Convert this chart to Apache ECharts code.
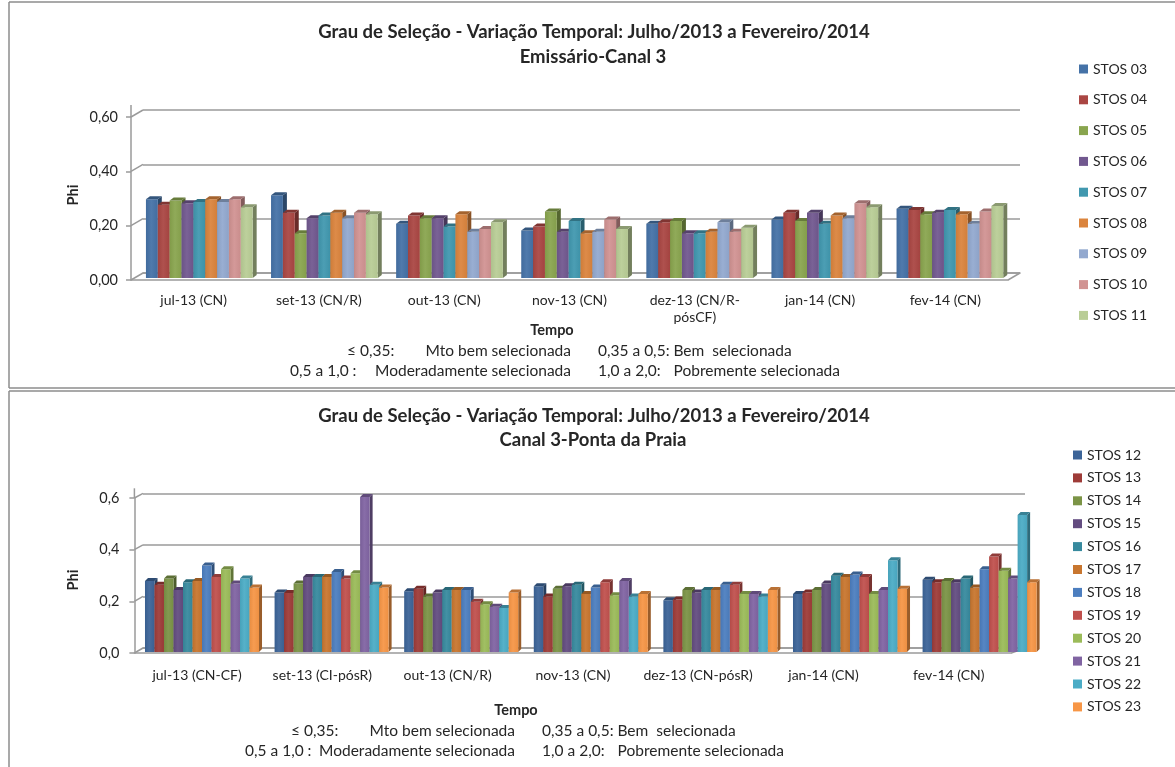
<!DOCTYPE html>
<html>
<head>
<meta charset="utf-8">
<script src="https://cdn.jsdelivr.net/npm/echarts@6/dist/echarts.min.js"></script>
<style>
  html, body { margin: 0; padding: 0; background: #ffffff; }
  #chart { width: 1175px; height: 767px; }
</style>
</head>
<body>
<div id="chart"></div>
<script>
// ---- Emissário-Canal 3 (upper chart) ----
const categoriesTop = ['jul-13 (CN)', 'set-13 (CN/R)', 'out-13 (CN)', 'nov-13 (CN)', 'dez-13 (CN/R-pósCF)', 'jan-14 (CN)', 'fev-14 (CN)'];
const stationsTop = ['STOS 03', 'STOS 04', 'STOS 05', 'STOS 06', 'STOS 07', 'STOS 08', 'STOS 09', 'STOS 10', 'STOS 11'];
const stos03 = [0.29, 0.305, 0.20, 0.175, 0.20, 0.215, 0.255];
const stos04 = [0.27, 0.24, 0.23, 0.19, 0.205, 0.24, 0.25];
const stos05 = [0.285, 0.165, 0.22, 0.245, 0.21, 0.21, 0.235];
const stos06 = [0.275, 0.22, 0.22, 0.17, 0.165, 0.24, 0.24];
const stos07 = [0.28, 0.23, 0.19, 0.21, 0.165, 0.20, 0.25];
const stos08 = [0.29, 0.24, 0.235, 0.165, 0.17, 0.23, 0.235];
const stos09 = [0.28, 0.22, 0.17, 0.17, 0.205, 0.22, 0.20];
const stos10 = [0.29, 0.24, 0.18, 0.215, 0.17, 0.275, 0.245];
const stos11 = [0.26, 0.235, 0.205, 0.18, 0.185, 0.26, 0.265];
const valuesTop = [stos03, stos04, stos05, stos06, stos07, stos08, stos09, stos10, stos11];
const colorsTop = ['#4572A7', '#AA4643', '#89A54E', '#71588F', '#4198AF', '#DB843D', '#93A9CF', '#D19392', '#B9CD96'];
const ticksTop = [0, 0.2, 0.4, 0.6];

// ---- Canal 3-Ponta da Praia (lower chart) ----
const categoriesBottom = ['jul-13 (CN-CF)', 'set-13 (CI-pósR)', 'out-13 (CN/R)', 'nov-13 (CN)', 'dez-13 (CN-pósR)', 'jan-14 (CN)', 'fev-14 (CN)'];
const stationsBottom = ['STOS 12', 'STOS 13', 'STOS 14', 'STOS 15', 'STOS 16', 'STOS 17', 'STOS 18', 'STOS 19', 'STOS 20', 'STOS 21', 'STOS 22', 'STOS 23'];
const stos12 = [0.275, 0.23, 0.235, 0.255, 0.20, 0.225, 0.28];
const stos13 = [0.26, 0.228, 0.245, 0.215, 0.203, 0.23, 0.27];
const stos14 = [0.285, 0.265, 0.215, 0.245, 0.24, 0.24, 0.275];
const stos15 = [0.24, 0.29, 0.23, 0.255, 0.23, 0.265, 0.27];
const stos16 = [0.27, 0.29, 0.24, 0.26, 0.24, 0.295, 0.285];
const stos17 = [0.275, 0.29, 0.24, 0.225, 0.24, 0.29, 0.25];
const stos18 = [0.335, 0.31, 0.24, 0.25, 0.26, 0.30, 0.32];
const stos19 = [0.29, 0.285, 0.195, 0.27, 0.26, 0.29, 0.37];
const stos20 = [0.32, 0.305, 0.185, 0.22, 0.225, 0.225, 0.315];
const stos21 = [0.265, 0.60, 0.175, 0.275, 0.225, 0.24, 0.285];
const stos22 = [0.285, 0.26, 0.17, 0.215, 0.215, 0.355, 0.53];
const stos23 = [0.25, 0.25, 0.23, 0.225, 0.24, 0.245, 0.27];
const valuesBottom = [stos12, stos13, stos14, stos15, stos16, stos17, stos18, stos19, stos20, stos21, stos22, stos23];
const colorsBottom = ['#3C6498', '#9E3B38', '#7B9446', '#634C80', '#378A9E', '#C8762F', '#4C7EBF', '#C0504D', '#9BBB59', '#8064A2', '#4BACC6', '#F79646'];
const ticksBottom = [0, 0.2, 0.4, 0.6];

const FONT = 'Lato, "Open Sans", sans-serif';
const GRID_GRAY = '#9a9a9a';
const TEXT = '#262626';

function shade(hex, f) {
  const n = parseInt(hex.slice(1), 16);
  let r = (n >> 16) & 255, g = (n >> 8) & 255, b = n & 255;
  const adj = c => Math.round(f < 0 ? c * (1 + f) : c + (255 - c) * f);
  r = adj(r); g = adj(g); b = adj(b);
  return 'rgb(' + r + ',' + g + ',' + b + ')';
}

// 3D-looking column: front face, right side and top cap, placed inside the category band
function column3d(k, n, groupFrac, depth, lift) {
  return function (params, api) {
    const cat = api.value(0);
    const v = api.value(1);
    const top = api.coord([cat, v]);
    const base = api.coord([cat, 0]);
    const band = api.size([1, 0])[0];
    const groupW = band * groupFrac;
    const slot = (groupW - depth) / n;
    const x = top[0] - groupW / 2 + k * slot;
    const w = slot;
    const yT = top[1], yB = base[1];
    const color = api.visual('color');
    return {
      type: 'group',
      children: [
        { type: 'polygon', shape: { points: [[x + w, yB], [x + w, yT], [x + w + depth, yT - lift], [x + w + depth, yB - lift]] },
          style: { fill: shade(color, -0.38) } },
        { type: 'rect', shape: { x: x, y: yT, width: w, height: yB - yT },
          style: { fill: new echarts.graphic.LinearGradient(0, 0, 1, 0, [
            { offset: 0, color: shade(color, -0.06) },
            { offset: 0.45, color: shade(color, 0.06) },
            { offset: 1, color: shade(color, -0.04) }]) } },
        { type: 'polygon', shape: { points: [[x, yT], [x + w, yT], [x + w + depth, yT - lift], [x + depth, yT - lift]] },
          style: { fill: shade(color, -0.25) } }
      ]
    };
  };
}

// layout of the two panels: back wall, columns, front axes
const L = {
  top: {
    back: { left: 143, right: 1020, top: 110, bottom: 273 },
    bars: { left: 138.75, right: 1014.45, top: 115, bottom: 278 },
    front: { left: 131, right: 1008, top: 117, bottom: 280 }
  },
  bottom: {
    back: { left: 143, right: 1025, top: 493.3, bottom: 648 },
    bars: { left: 138.7, right: 1045.9, top: 497, bottom: 652 },
    front: { left: 134.4, right: 1011.4, top: 498, bottom: 653 }
  }
};
const W = 1175, H = 767;
function gridOf(r) {
  return { left: r.left, width: r.right - r.left, top: r.top, height: r.bottom - r.top, containLabel: false };
}

const grids = [
  gridOf(L.top.back), gridOf(L.top.bars), gridOf(L.top.front),
  gridOf(L.bottom.back), gridOf(L.bottom.bars), gridOf(L.bottom.front)
];

function hiddenX(gi, cats) {
  return { type: 'category', gridIndex: gi, data: cats, show: false, boundaryGap: true };
}
function backX(gi, cats) {
  return { type: 'category', gridIndex: gi, data: cats, boundaryGap: true,
    axisLine: { show: true, lineStyle: { color: GRID_GRAY, width: 1.5 } },
    axisTick: { show: false }, axisLabel: { show: false }, splitLine: { show: false } };
}
function frontX(gi, cats, margin) {
  return { type: 'category', gridIndex: gi, data: cats, boundaryGap: true,
    axisLine: { show: true, lineStyle: { color: GRID_GRAY, width: 1.5 } },
    axisTick: { show: false }, splitLine: { show: false },
    axisLabel: { interval: 0, margin: margin, color: TEXT, fontFamily: FONT, fontSize: 14, lineHeight: 17,
      formatter: v => v.replace('R-p', 'R-\np') } };
}
function backY(gi) {
  return { type: 'value', gridIndex: gi, min: 0, max: 0.6, interval: 0.2,
    axisLine: { show: false }, axisTick: { show: false }, axisLabel: { show: false },
    splitLine: { show: true, lineStyle: { color: GRID_GRAY, width: 1.5 } } };
}
function barsY(gi) {
  return { type: 'value', gridIndex: gi, min: 0, max: 0.6, interval: 0.2, show: false, splitLine: { show: false } };
}
function frontY(gi, digits, margin) {
  return { type: 'value', gridIndex: gi, min: 0, max: 0.6, interval: 0.2,
    axisLine: { show: true, lineStyle: { color: GRID_GRAY, width: 1.5 } },
    axisTick: { show: true, length: 5, lineStyle: { color: GRID_GRAY, width: 1.5 } },
    splitLine: { show: false },
    axisLabel: { margin: margin, color: TEXT, fontFamily: FONT, fontSize: 14.5,
      formatter: v => (digits === 0 && v === 0) ? '0' : v.toFixed(digits).replace('.', ',') } };
}

const xAxes = [
  backX(0, categoriesTop), hiddenX(1, categoriesTop), frontX(2, categoriesTop, 12),
  backX(3, categoriesBottom), hiddenX(4, categoriesBottom), frontX(5, categoriesBottom, 14)
];
const yAxes = [
  backY(0), barsY(1), frontY(2, 2, 13),
  backY(3), barsY(4), frontY(5, 1, 15)
];

const series = [];
stationsTop.forEach((name, k) => {
  series.push({
    name: name, type: 'custom', xAxisIndex: 1, yAxisIndex: 1, clip: false,
    itemStyle: { color: colorsTop[k] },
    renderItem: column3d(k, stationsTop.length, 0.885, 4, 3),
    encode: { x: 0, y: 1 },
    data: valuesTop[k].map((v, i) => [i, v])
  });
});
stationsBottom.forEach((name, k) => {
  series.push({
    name: name, type: 'custom', xAxisIndex: 4, yAxisIndex: 4, clip: false,
    itemStyle: { color: colorsBottom[k] },
    renderItem: column3d(k, stationsBottom.length, 0.903, 3, 3),
    encode: { x: 0, y: 1 },
    data: valuesBottom[k].map((v, i) => [i, v])
  });
});

function txt(text, x, y, size, bold, align, rotation) {
  return {
    type: 'text', x: x, y: y, rotation: rotation || 0, z: 10,
    style: { text: text, fill: TEXT, font: (bold ? 'bold ' : '') + size + 'px ' + FONT,
      textAlign: align || 'center', textVerticalAlign: 'middle', align: align || 'center', verticalAlign: 'middle' }
  };
}
function line(x1, y1, x2, y2, color, width) {
  return { type: 'line', z: 1, shape: { x1: x1, y1: y1, x2: x2, y2: y2 },
    style: { stroke: color, lineWidth: width } };
}

const TITLE = 'Grau de Seleção - Variação Temporal: Julho/2013 a Fevereiro/2014';
const NOTE_SIZE = 15.5;

// classification legend under each chart: two rows of two class descriptions
function notes(dx, y1, y2, start1, start2) {
  return [
    txt('≤ 0,35:', start1, y1, NOTE_SIZE, false, 'left'),
    txt('Mto bem selecionada', 571 + dx, y1, NOTE_SIZE, false, 'right'),
    txt('0,35 a 0,5: Bem  selecionada', 598 + dx, y1, NOTE_SIZE, false, 'left'),
    txt('0,5 a 1,0 :', start2, y2, NOTE_SIZE, false, 'left'),
    txt('Moderadamente selecionada', 571 + dx, y2, NOTE_SIZE, false, 'right'),
    txt('1,0 a 2,0:', 598 + dx, y2, NOTE_SIZE, false, 'left'),
    txt('Pobremente selecionada', 840 + dx, y2, NOTE_SIZE, false, 'right')
  ];
}

const staticGraphics = [
  // panel frames
  line(9, 2, W, 2, '#8c8c8c', 1.5),
  line(9, 2, 9, 388, '#8c8c8c', 1.5),
  line(9, 388, W, 388, '#8c8c8c', 1.5),
  line(9, 391, W, 391, '#8c8c8c', 1.5),
  line(9, 391, 9, H, '#8c8c8c', 1.5),
  // upper panel texts
  txt(TITLE, 594, 32, 18.5, true),
  txt('Emissário-Canal 3', 593, 57, 18.5, true),
  txt('Phi', 73, 195, 14.5, true, 'center', Math.PI / 2),
  txt('Tempo', 552, 330, 14.5, true),
  // lower panel texts
  txt(TITLE, 594, 416, 18.5, true),
  txt('Canal 3-Ponta da Praia', 593, 440, 18.5, true),
  txt('Phi', 73, 580, 14.5, true, 'center', Math.PI / 2),
  txt('Tempo', 516, 710, 14.5, true)
].concat(notes(0, 351, 371, 347, 290))
 .concat(notes(-56, 731, 751, 291, 245));

const option = {
  animation: false,
  backgroundColor: '#ffffff',
  grid: grids,
  xAxis: xAxes,
  yAxis: yAxes,
  legend: [
    { data: stationsTop, orient: 'vertical', left: 1074, top: 57, icon: 'rect', itemWidth: 9, itemHeight: 9,
      itemGap: 16.8, textStyle: { fontFamily: FONT, fontSize: 14, color: TEXT, lineHeight: 14 } },
    { data: stationsBottom, orient: 'vertical', left: 1068, top: 443, icon: 'rect', itemWidth: 9, itemHeight: 9,
      itemGap: 8.9, textStyle: { fontFamily: FONT, fontSize: 14, color: TEXT, lineHeight: 14 } }
  ],
  series: series,
  graphic: staticGraphics
};

const chart = echarts.init(document.getElementById('chart'), null, { renderer: 'canvas' });
chart.setOption(option);

// wall-to-axis connectors of the 3D frame, located through the axes' own scales
function frameLines(frontYIdx, backYIdx, r, ticks) {
  const out = [];
  ticks.forEach(t => {
    const yf = chart.convertToPixel({ yAxisIndex: frontYIdx }, t);
    const yb = chart.convertToPixel({ yAxisIndex: backYIdx }, t);
    out.push(line(r.front.left, yf, r.back.left, yb, GRID_GRAY, 1.5));
  });
  const yfTop = chart.convertToPixel({ yAxisIndex: frontYIdx }, ticks[ticks.length - 1]);
  const ybTop = chart.convertToPixel({ yAxisIndex: backYIdx }, ticks[ticks.length - 1]);
  out.push(line(r.front.left, yfTop, r.front.left, ybTop - 5, GRID_GRAY, 1.5));
  const yf0 = chart.convertToPixel({ yAxisIndex: frontYIdx }, 0);
  const yb0 = chart.convertToPixel({ yAxisIndex: backYIdx }, 0);
  out.push(line(r.front.right, yf0, r.back.right, yb0, GRID_GRAY, 1.5));
  return out;
}
chart.setOption({
  graphic: staticGraphics
    .concat(frameLines(2, 0, L.top, ticksTop))
    .concat(frameLines(5, 3, L.bottom, ticksBottom))
});
</script>
</body>
</html>
